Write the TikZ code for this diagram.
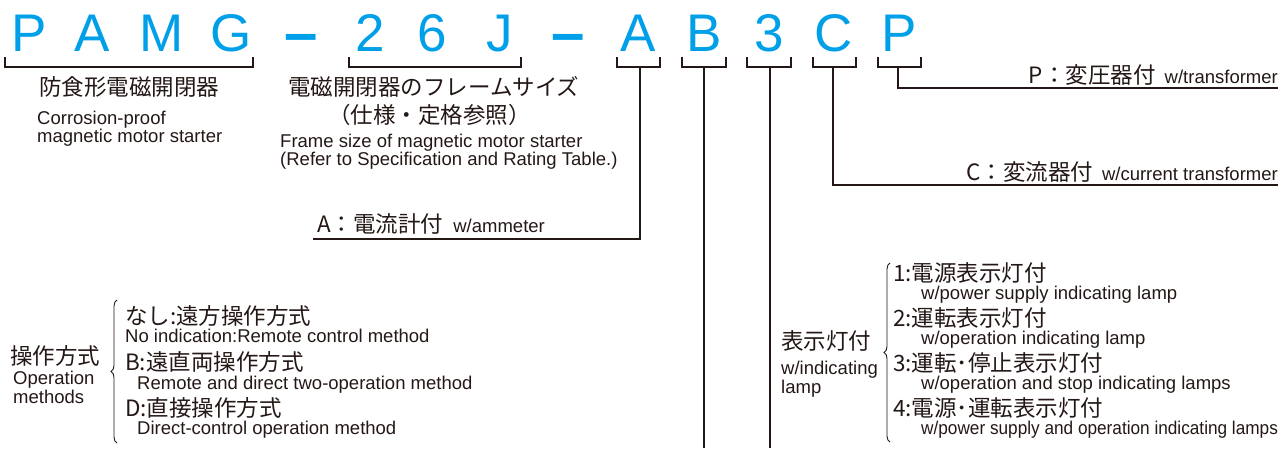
\documentclass[tikz,border=0pt]{standalone}
\usepackage{fontspec}
\setmainfont{Liberation Sans}
\newfontfamily\jpfont{Noto Sans CJK JP}
\usetikzlibrary{decorations.pathreplacing}
\definecolor{codeblue}{HTML}{00A0E9}
\definecolor{ink}{HTML}{231815}
\newcommand\jptext[1]{{\jpfont\fontsize{22.5}{24}\selectfont #1}}

\begin{document}
\begin{tikzpicture}[x=1pt,y=-1pt,
    code/.style={text=codeblue,inner sep=0pt,anchor=base,font=\fontsize{53}{53}\selectfont},
    jp/.style={text=ink,inner sep=0pt,anchor=west,font=\jpfont\fontsize{22.5}{24}\selectfont},
    en/.style={text=ink,inner sep=0pt,anchor=base west,font=\fontsize{18.5}{20}\selectfont},
    lbl/.style={text=ink,inner sep=0pt,font=\fontsize{18.5}{20}\selectfont},
    brk/.style={draw=ink,line width=1.1pt},
    lead/.style={draw=ink,line width=1.1pt},
    curly/.style={draw=ink,line width=0.9pt,decorate,decoration={brace,amplitude=6pt}}]
        \useasboundingbox (0,0) rectangle (1282,448);
        % model code
        \node[code](cP) at (29,51) {P};
        \node[code](cA) at (92,51) {A};
        \node[code](cM) at (162,51) {M};
        \node[code](cG) at (231,51) {G};
        \node[code,font=\bfseries\fontsize{60}{60}\selectfont](dash1) at (301,53) {--};
        \node[code](c2) at (370,51) {2};
        \node[code](c6) at (432,51) {6};
        \node[code](cJ) at (500,51) {J};
        \node[code,font=\bfseries\fontsize{60}{60}\selectfont](dash2) at (568,53) {--};
        \node[code](cAm) at (638,51) {A};
        \node[code](cB) at (704,51) {B};
        \node[code](c3) at (769,51) {3};
        \node[code](cC) at (834,51) {C};
        \node[code](cPt) at (899,51) {P};
        % brackets
        \draw[brk] (5,57) |- (253,67) -- (253,57);
        \draw[brk] (349,57) |- (521,67) -- (521,57);
        \draw[brk] (617,57) |- (660,67) -- (660,57);
        \draw[brk] (682,57) |- (726,67) -- (726,57);
        \draw[brk] (747,57) |- (791,67) -- (791,57);
        \draw[brk] (813,57) |- (856,67) -- (856,57);
        \draw[brk] (878,57) |- (921,67) -- (921,57);
        \coordinate(bA) at (640,67);
        \coordinate(bB) at (704,67);
        \coordinate(b3) at (770,67);
        \coordinate(bC) at (833,67);
        \coordinate(bP) at (898,67);
        \coordinate(aEnd) at (313,239);
        \coordinate(bBEnd) at (704,448);
        \coordinate(b3End) at (770,448);
        \coordinate(cEnd) at (1278,185);
        \coordinate(pEnd) at (1278,88);
        % leaders
        \draw[lead] (bA) |- (aEnd);
        \draw[lead] (bB) -- (bBEnd);
        \draw[lead] (b3) -- (b3End);
        \draw[lead] (bC) |- (cEnd);
        \draw[lead] (bP) |- (pEnd);
        % labels on leaders
        \node[lbl,anchor=base east](lblP) at (1278,83) {\jptext{P：変圧器付}\hspace{9pt}w/transformer};
        \node[lbl,anchor=base east](lblC) at (1278,180) {\jptext{C：変流器付}\hspace{9pt}w/current transformer};
        \node[lbl,anchor=base west](lblA) at (317,232) {\jptext{A：電流計付}\hspace{10pt}w/ammeter};
        % texts under PAMG and 26J
        \node[jp](pamgJ) at (39,87) {防食形電磁開閉器};
        \node[en](pamgE1) at (37,124) {Corrosion-proof};
        \node[en](pamgE2) at (37,142) {magnetic motor starter};
        \node[jp](sizeJ1) at (288,87) {電磁開閉器のフレームサイズ};
        \node[jp](sizeJ2) at (328,115) {（仕様・定格参照）};
        \node[en](sizeE1) at (280,147) {Frame size of magnetic motor starter};
        \node[en](sizeE2) at (280,165) {(Refer to Specification and Rating Table.)};
        % operation methods
        \node[jp](opJ) at (10,356) {操作方式};
        \node[en](opE1) at (13,384) {Operation};
        \node[en](opE2) at (13,403) {methods};
        \draw[curly] (117,443) -- (117,300);
        \node[jp](op1J) at (125,316) {なし:遠方操作方式};
        \node[en](op1E) at (125,342) {No indication:Remote control method};
        \node[jp](op2J) at (125,362) {B:遠直両操作方式};
        \node[en](op2E) at (137,389) {Remote and direct two-operation method};
        \node[jp](op3J) at (125,408) {D:直接操作方式};
        \node[en](op3E) at (137,434) {Direct-control operation method};
        % indicating lamps
        \node[jp](lampJ) at (781,341) {表示灯付};
        \node[en](lampE1) at (781,374) {w/indicating};
        \node[en](lampE2) at (781,393) {lamp};
        \draw[curly] (890,442) -- (890,263);
        \node[jp](lamp1J) at (893,273) {1:電源表示灯付};
        \node[en](lamp1E) at (921,299) {w/power supply indicating lamp};
        \node[jp](lamp2J) at (893,318) {2:運転表示灯付};
        \node[en](lamp2E) at (921,344) {w/operation indicating lamp};
        \node[jp](lamp3J) at (893,363) {3:運転･停止表示灯付};
        \node[en](lamp3E) at (921,389) {w/operation and stop indicating lamps};
        \node[jp](lamp4J) at (893,408) {4:電源･運転表示灯付};
        \node[en](lamp4E) at (921,434) {\scalebox{0.93}[1]{w/power supply and operation indicating lamps}};
\end{tikzpicture}
\end{document}
